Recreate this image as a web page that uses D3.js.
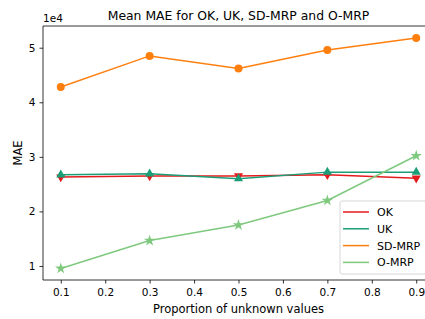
<!DOCTYPE html>
<html><head><meta charset="utf-8">
<script src="https://cdn.jsdelivr.net/npm/d3@7"></script>
<style>body{margin:0;background:#fff;} svg{display:block;font-family:"DejaVu Sans",sans-serif;}</style>
</head><body>
<script>
const proportions = [0.1, 0.3, 0.5, 0.7, 0.9];
const okValues = [26300, 26500, 26500, 26700, 26100];
const ukValues = [26700, 26900, 26000, 27200, 27200];
const sdmrpValues = [42800, 48500, 46200, 49600, 51800];
const omrpValues = [9550, 14650, 17500, 22000, 30200];
const xTicks = [0.1, 0.2, 0.3, 0.4, 0.5, 0.6, 0.7, 0.8, 0.9];
const yTicks = [10000, 20000, 30000, 40000, 50000];
const seriesNames = ["OK", "UK", "SD-MRP", "O-MRP"];

const W = 425, H = 319;
const svg = d3.select("body").append("svg").attr("width", W).attr("height", H);
const L = 43, T = 26, B = 280, R = 434;
const x = d3.scaleLinear().domain([0.06, 0.94]).range([L, R]);
const y = d3.scaleLinear().domain([7430, 53980]).range([B, T]);

const series = [
  {name: "OK", values: okValues, color: "#e41a1c", marker: "tridown"},
  {name: "UK", values: ukValues, color: "#1b9e77", marker: "triup"},
  {name: "SD-MRP", values: sdmrpValues, color: "#ff7f0e", marker: "circle"},
  {name: "O-MRP", values: omrpValues, color: "#7fc97f", marker: "star"}
];

// axes
const xAxis = d3.axisBottom(x).tickValues(xTicks).tickSize(3.5).tickPadding(5.5).tickFormat(d3.format(".1f"));
const yAxis = d3.axisLeft(y).tickValues(yTicks).tickSize(3.5).tickPadding(4).tickFormat(d => d / 10000);
const gx = svg.append("g").attr("transform", `translate(0,${B})`).call(xAxis);
const gy = svg.append("g").attr("transform", `translate(${L},0)`).call(yAxis);
[gx, gy].forEach(g => {
  g.select(".domain").remove();
  g.selectAll("text").attr("font-size", 10.5).attr("fill", "#000").attr("font-family", "DejaVu Sans");
  g.selectAll("line").attr("stroke", "#000").attr("stroke-width", 0.8);
});
// spines
svg.append("line").attr("x1", L).attr("x2", L).attr("y1", T).attr("y2", B).attr("stroke", "#000").attr("stroke-width", 0.8);
svg.append("line").attr("x1", L).attr("x2", R).attr("y1", B).attr("y2", B).attr("stroke", "#000").attr("stroke-width", 0.8);
svg.append("line").attr("x1", L).attr("x2", R).attr("y1", T).attr("y2", T).attr("stroke", "#000").attr("stroke-width", 0.8);

const line = d3.line().x((d, i) => x(proportions[i])).y(d => y(d));
const sym = {
  tridown: d3.symbol().type(d3.symbolTriangle).size(36),
  triup: d3.symbol().type(d3.symbolTriangle).size(36),
  circle: d3.symbol().type(d3.symbolCircle).size(50),
  star: d3.symbol().type(d3.symbolStar).size(40)
};
series.forEach(s => {
  svg.append("path").attr("d", line(s.values)).attr("fill", "none").attr("stroke", s.color).attr("stroke-width", 1.5);
  svg.selectAll(null).data(s.values).enter().append("path")
    .attr("d", sym[s.marker]())
    .attr("transform", (d, i) => `translate(${x(proportions[i])},${y(d)})` + (s.marker === "tridown" ? " rotate(180)" : ""))
    .attr("fill", s.color);
});

// texts
svg.append("text").attr("x", 238.5).attr("y", 20).attr("text-anchor", "middle").attr("font-size", 12.4).text("Mean MAE for OK, UK, SD-MRP and O-MRP");
svg.append("text").attr("x", L).attr("y", 22).attr("font-size", 10.5).text("1e4");
svg.append("text").attr("x", 238.5).attr("y", 312.5).attr("text-anchor", "middle").attr("font-size", 11.5).text("Proportion of unknown values");
svg.append("text").attr("transform", `translate(22,${(T + B) / 2}) rotate(-90)`).attr("text-anchor", "middle").attr("font-size", 11.5).text("MAE");

// legend
const lg = svg.append("g");
lg.append("rect").attr("x", 340).attr("y", 201).attr("width", 100).attr("height", 73).attr("rx", 2)
  .attr("fill", "#fff").attr("fill-opacity", 0.8).attr("stroke", "#ccc").attr("stroke-width", 0.8);
series.forEach((s, i) => {
  const yy = 212 + i * 16.8;
  lg.append("line").attr("x1", 343).attr("x2", 369).attr("y1", yy).attr("y2", yy).attr("stroke", s.color).attr("stroke-width", 1.5);
  lg.append("text").attr("x", 377).attr("y", yy + 4).attr("font-size", 11).text(seriesNames[i]);
});
</script>
</body></html>
